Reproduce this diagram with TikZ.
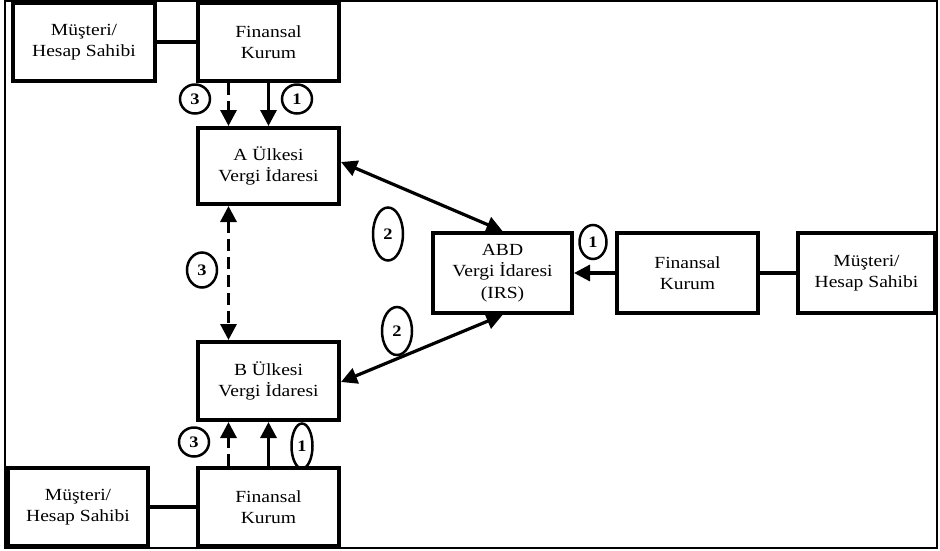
\documentclass[tikz,border=0pt]{standalone}
\usepackage{fontspec}
\setmainfont{Liberation Serif}[FakeStretch=1.15]
\usetikzlibrary{arrows.meta,shapes.geometric}
\begin{document}
\begin{tikzpicture}[x=1pt,y=-1pt,
  box/.style={draw,line width=4pt,minimum width=141pt,minimum height=78pt,
    align=center,inner sep=0pt,font=\fontsize{17}{21.5}\selectfont},
  num/.style={draw,ellipse,line width=2.5pt,inner sep=0pt,minimum width=30pt,
    minimum height=29pt,font=\fontsize{16}{16}\selectfont\bfseries},
  tip/.tip={Triangle[length=16pt,width=16pt]},
  arr/.style={line width=3.2pt,-tip},
  darr/.style={line width=3.2pt,-tip,dash pattern=on 12pt off 6pt},
  link/.style={line width=3.2pt}]
\useasboundingbox (0,0) rectangle (940,550);
\draw[line width=2pt] (5,1) rectangle (937,548);

% top row
\node[box,minimum width=142pt] (cusTop) at (84,42) {Müşteri/\\Hesap Sahibi};
\node[box] (finTop) at (268.5,42) {Finansal\\Kurum};
% country administrations
\node[box,minimum height=76pt] (taxA) at (268.5,166) {A Ülkesi\\Vergi İdaresi};
\node[box] (taxB) at (268.5,381) {B Ülkesi\\Vergi İdaresi};
% bottom row
\node[box] (finBot) at (268.5,507) {Finansal\\Kurum};
\node[box,minimum width=140pt] (cusBot) at (78,507) {Müşteri/\\Hesap Sahibi};
% right side
\node[box,minimum width=139pt,minimum height=80pt] (irs) at (502.5,273) {ABD\\Vergi İdaresi\\(IRS)};
\node[box,minimum height=80pt] (finR) at (687.5,273) {Finansal\\Kurum};
\node[box,minimum width=137pt,minimum height=80pt] (cusR) at (866.5,273) {Müşteri/\\Hesap Sahibi};

% customer links
\draw[link] (cusTop) -- (finTop);
\draw[link] (cusBot) -- (finBot);
\draw[link] (finR) -- (cusR);

% reporting flows
\draw[darr] ([xshift=-40pt]finTop.south) -- ([xshift=-40pt]taxA.north);
\draw[arr] (finTop.south) -- (taxA.north);
\draw[darr] ([xshift=-40pt]finBot.north) -- ([xshift=-40pt]taxB.south);
\draw[arr] (finBot.north) -- (taxB.south);
\draw[arr] (finR.west) -- (irs.east);
\draw[darr,tip-tip] ([xshift=-40pt]taxA.south) -- ([xshift=-40pt]taxB.north);
\draw[arr,tip-tip] ([yshift=4pt]taxA.east) -- (irs.north);
\draw[arr,tip-tip] (irs.south) -- ([yshift=-1pt]taxB.east);

% step markers
\node[num] (n3a) at (195,99) {3};
\node[num] (n1a) at (297,99) {1};
\node[num,minimum height=35pt] (n3m) at (202,270) {3};
\node[num,minimum height=53pt] (n2u) at (388,234) {2};
\node[num,minimum height=48pt] (n2l) at (397,331) {2};
\node[num,minimum width=27pt,minimum height=34pt] (n1r) at (593,242) {1};
\node[num] (n3b) at (194,442) {3};
\node[num,minimum width=21pt,minimum height=45pt] (n1b) at (302,446) {1};
\end{tikzpicture}
\end{document}
